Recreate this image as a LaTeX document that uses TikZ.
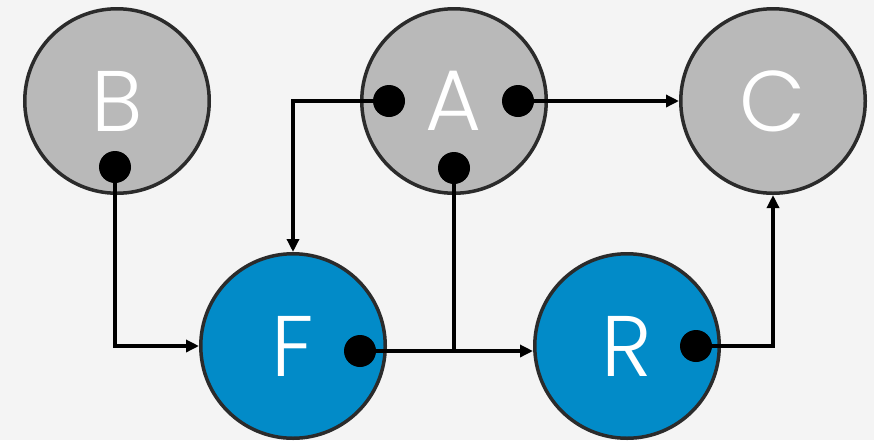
\documentclass[tikz,border=0pt]{standalone}
\usepackage{fontspec}
\setmainfont{Poppins}[UprightFont=* Light]
\usetikzlibrary{arrows.meta}
\definecolor{bg}{HTML}{F4F4F4}
\definecolor{edge}{HTML}{2B2B2B}
\definecolor{grayfill}{HTML}{B9B9B9}
\definecolor{bluefill}{HTML}{028BC8}
\begin{document}
\begin{tikzpicture}[x=1pt,y=-1pt,
  bigc/.style={circle, draw=edge, line width=3.5pt, minimum size=184.5pt, inner sep=0pt, text=white, font=\fontsize{86}{86}\selectfont},
  grayc/.style={bigc, fill=grayfill},
  bluec/.style={bigc, fill=bluefill},
  dotc/.style={circle, fill=black, minimum size=32pt, inner sep=0pt},
  conn/.style={line width=3.6pt, draw=black},
  arr/.style={conn, -{Triangle[length=13pt,width=12pt]}}]
\useasboundingbox[fill=bg] (0,0) rectangle (874,440);
\node[grayc] (B) at (117,101) {B};
\node[grayc] (A) at (454,101) {A};
\node[grayc] (C) at (773,101) {C};
\node[bluec] (F) at (293,346) {F};
\node[bluec] (R) at (627,346) {R};
\node[dotc] (bd) at (115,167) {};
\node[dotc] (al) at (389,101) {};
\node[dotc] (ar) at (518,101) {};
\node[dotc] (ab) at (454,168) {};
\node[dotc] (fd) at (360,351) {};
\node[dotc] (rd) at (696,346) {};
\coordinate (j) at (ab |- fd);
\draw[arr] (bd) |- (F.west);
\draw[arr] (al) -| (F.north);
\draw[arr] (ar) -- (C.west);
\draw[conn] (ab) -- (j);
\draw[arr] (fd) -- (fd -| R.west);
\draw[arr] (rd) -| (C.south);
\end{tikzpicture}
\end{document}
